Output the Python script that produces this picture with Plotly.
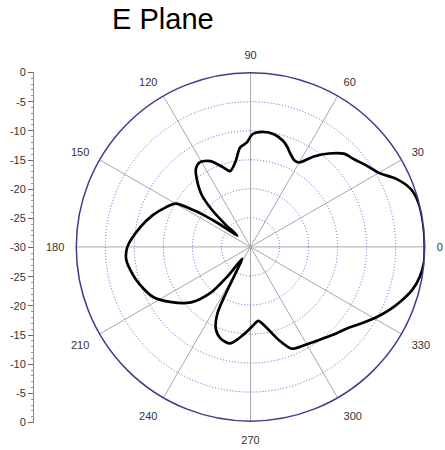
import plotly.graph_objects as go

# E-plane pattern: angle (deg) and gain (dB)
theta_deg = [0, 5, 10, 15, 20, 25, 30, 35, 40, 45, 50, 55, 60, 63, 67, 70, 73, 78, 84, 89,
             92, 96, 100, 105, 109, 115, 121, 125, 128, 133, 136, 138, 139.5, 142, 144, 146,
             147, 150, 155, 162, 170, 180, 186, 196, 207, 215, 223, 229, 232, 235, 240, 242,
             243.5, 247, 252, 258, 263, 268, 272, 276, 281, 287, 292, 299, 304, 310, 315, 320,
             325, 330, 335, 340, 345, 350, 355, 360]
gain_db = [0, 0, 0, -0.1, -0.7, -2.3, -4.5, -5.6, -6.6, -7.3, -9.0, -11.0, -13.2, -13.3, -12.5,
           -11.6, -10.9, -10.2, -10.1, -10.6, -12.0, -12.8, -15.1, -16.5, -15.5, -13.7, -13.0,
           -13.6, -14.9, -17.6, -20.6, -24.0, -27.0, -25.5, -23.0, -20.0, -18.5, -15.1, -13.9,
           -12.3, -10.7, -8.8, -8.5, -9.5, -11.1, -13.4, -16.0, -19.5, -23.5, -27.5, -25.3,
           -21.0, -17.3, -14.7, -13.4, -13.0, -14.2, -15.5, -16.5, -17.2, -15.9, -13.2, -11.1,
           -10.7, -10.3, -9.7, -9.0, -8.2, -6.9, -5.4, -3.9, -2.5, -1.2, -0.4, 0, 0]

radial_range = [-30, 0]
angle_ticks = list(range(0, 360, 30))
angle_labels = [str(a) for a in angle_ticks]
left_tickvals = list(range(-30, 31, 5))
left_ticktext = [str(abs(v) - 30) for v in left_tickvals]

FONT = "Liberation Sans, Arial, sans-serif"

fig = go.Figure()

# left dB scale (mirrored)
fig.add_trace(go.Scatter(x=[0], y=[0], mode="markers", marker=dict(opacity=0),
                         hoverinfo="skip", showlegend=False, xaxis="x", yaxis="y"))

fig.add_trace(go.Scatterpolar(theta=theta_deg, r=gain_db, mode="lines",
                              line=dict(color="black", width=2.7, shape="spline",
                                        smoothing=0.8),
                              subplot="polar2", showlegend=False))

dom_x = [0.1607, 0.9652]
dom_y = [0.0522, 0.8478]

fig.update_layout(
    width=445, height=450,
    margin=dict(l=0, r=0, t=0, b=0),
    paper_bgcolor="white", plot_bgcolor="white",
    font=dict(family=FONT, size=11, color="#333333"),
    title=dict(text="E Plane", x=0.366, xanchor="center", y=1 - 19 / 450, yanchor="middle",
               font=dict(family=FONT, size=29, color="black")),
    xaxis=dict(domain=[0, 0.02], visible=False, range=[0, 1]),
    yaxis=dict(range=[-30, 30], domain=[0.0489, 0.8482], anchor="free", position=0.0742,
               tickvals=left_tickvals, ticktext=left_ticktext, ticks="outside", ticklen=5,
               tickcolor="#666666", showline=True, linecolor="#888888", linewidth=1,
               showgrid=False, zeroline=False, tickfont=dict(size=11, color="#333333"),
               minor=dict(dtick=1, ticks="outside", ticklen=2, tickcolor="#999999")),
    polar=dict(
        domain=dict(x=dom_x, y=dom_y),
        bgcolor="white",
        radialaxis=dict(range=radial_range, dtick=2.5, showgrid=True, gridcolor="#c2e8c2",
                        griddash="1px,2px", gridwidth=1, showline=False,
                        showticklabels=False, ticks=""),
        angularaxis=dict(dtick=15, showgrid=True, gridcolor="#e8e8e8", gridwidth=1,
                         showline=True, linecolor="#3c3c8a", linewidth=1.5,
                         showticklabels=False, ticks="inside", ticklen=5,
                         tickcolor="#3c3c8a"),
    ),
    polar2=dict(
        domain=dict(x=dom_x, y=dom_y),
        bgcolor="rgba(0,0,0,0)",
        radialaxis=dict(range=radial_range, dtick=5, showgrid=True, gridcolor="#5c5cdc",
                        griddash="1px,2px", gridwidth=1, showline=False,
                        showticklabels=False, ticks=""),
        angularaxis=dict(tickmode="array", tickvals=angle_ticks, ticktext=angle_labels,
                         showgrid=True, gridcolor="#a8a8a8", gridwidth=1,
                         showline=True, linecolor="#3c3c8a", linewidth=1.5,
                         ticks="outside", ticklen=9, tickcolor="rgba(0,0,0,0)",
                         tickfont=dict(size=11, color="#333333")),
    ),
)

fig.write_html("out.html", config={"displayModeBar": False},
               post_script="document.body.style.margin='0';")
